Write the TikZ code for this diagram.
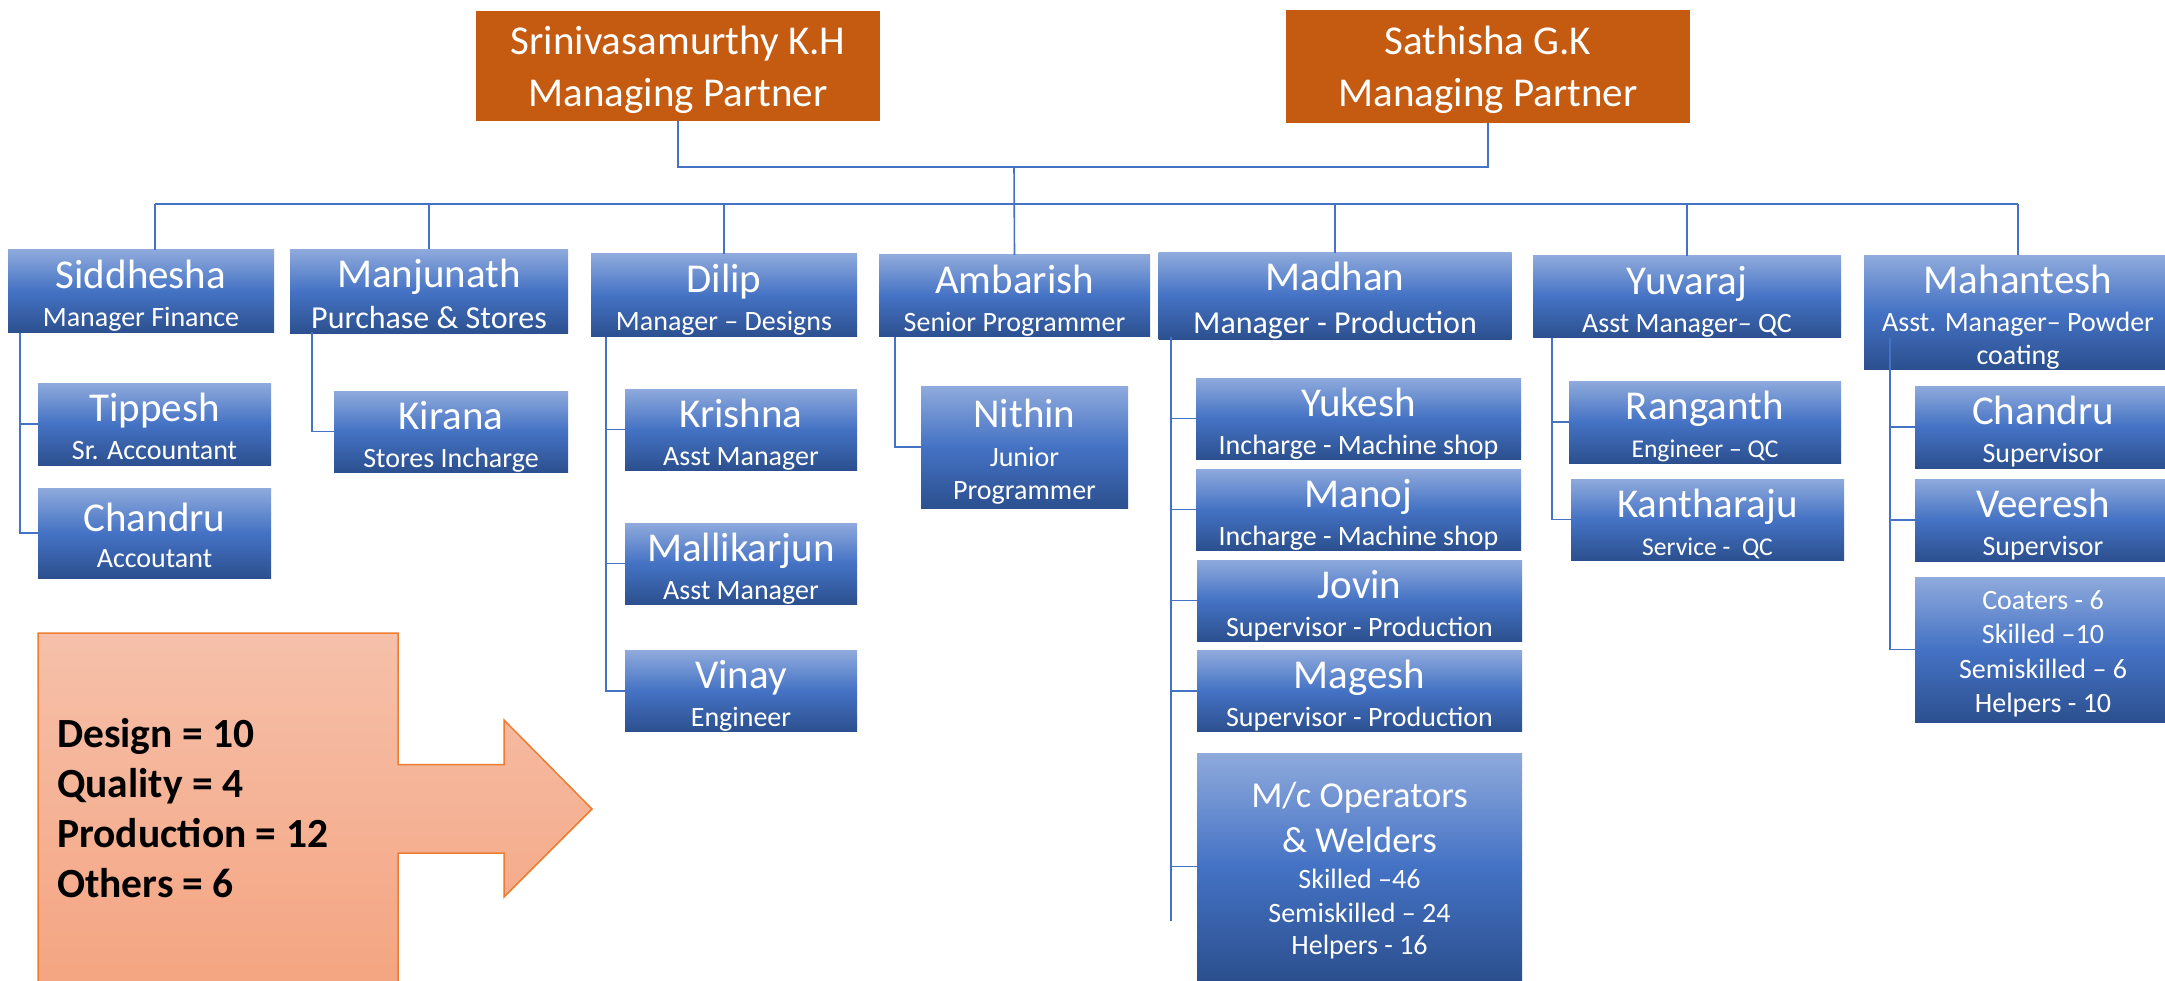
\documentclass[tikz,border=0pt]{standalone}
\usepackage{fontspec}
\setmainfont{Carlito}
\definecolor{orgtop}{RGB}{143,170,220}
\definecolor{orgmid}{RGB}{68,114,196}
\definecolor{orgbot}{RGB}{44,80,143}
\definecolor{mpfill}{RGB}{197,90,17}
\definecolor{lnc}{RGB}{68,114,196}
\definecolor{calltop}{RGB}{246,192,170}
\definecolor{callbot}{RGB}{244,164,128}
\definecolor{callline}{RGB}{237,125,49}
\newcommand\fN{\fontsize{41}{41}\selectfont}
\newcommand\fL{\fontsize{32}{32}\selectfont}
\newcommand\fR{\fontsize{25.6}{25.6}\selectfont}
\newcommand\fM{\fontsize{36.5}{36.5}\selectfont}
\newcommand\sttop[1]{\rule{0pt}{#1pt}}
\newcommand\stbot[1]{\rule[-#1pt]{0pt}{#1pt}}
\tikzset{
  ob/.style={rectangle, inner sep=0pt, top color=orgtop, bottom color=orgbot, middle color=orgmid,
    text=white, align=center, font=\fontsize{28}{34}\selectfont},
  mpbox/.style={rectangle, inner sep=0pt, fill=mpfill, text=white, align=center,
    font=\fontsize{41}{52}\selectfont},
  link/.style={draw=lnc, line width=1.6pt},
}
\begin{document}
\begin{tikzpicture}[x=1pt,y=-1pt]
\useasboundingbox (0,0) rectangle (2165,981);
\fill[white] (0,0) rectangle (2165,981);
\clip (0,0) rectangle (2165,981);

% callout
\path[top color=calltop, bottom color=callbot, draw=callline, line width=1.5pt]
  (38,633) -- (398,633) -- (398,764.5) -- (504,764.5) -- (504,720) -- (592,809)
  -- (504,897) -- (504,853) -- (398,853) -- (398,995) -- (38,995) -- cycle;
\node[anchor=north west, align=left, inner sep=0pt, font=\bfseries\fontsize{41.5}{50}\selectfont] (stats) at (57,717.6)
  {\sttop{30}Design = 10\\Quality = 4\\Production = 12\\Others = 6};

% top
\node[mpbox, minimum width=404pt, minimum height=110pt] (sri) at (678,66)
  {\sttop{36}Srinivasamurthy K.H\\Managing Partner\stbot{6}};
\node[mpbox, minimum width=404pt, minimum height=113pt] (sat) at (1488,66.5)
  {\sttop{36}Sathisha G.K\\Managing Partner\stbot{6}};

% level 2
\node[ob, minimum width=266pt, minimum height=83pt] (sid) at (141,291.5)
  {\sttop{38}\fN Siddhesha\\[4pt]Manager Finance\stbot{5}};
\node[ob, minimum width=278pt, minimum height=81pt] (man) at (429,291.5)
  {\sttop{38}\fN Manjunath\\[7pt]\fL Purchase \& Stores\stbot{5}};
\node[ob, minimum width=266pt, minimum height=83pt] (dil) at (724,295.5)
  {\sttop{38}\fN Dilip\\[4pt]Manager – Designs\stbot{5}};
\node[ob, minimum width=271pt, minimum height=82pt] (amb) at (1014.5,296)
  {\sttop{38}\fN Ambarish\\[4pt]Senior Programmer\stbot{5}};
\node[ob, minimum width=353pt, minimum height=82pt] (mad) at (1335,296)
  {\sttop{38}\fN Madhan\\[9pt]\fL Manager - Production\stbot{5}};
\node[ob, minimum width=308pt, minimum height=82pt] (yuv) at (1687,297)
  {\sttop{38}\fN Yuvaraj\\[4pt]Asst Manager– QC\stbot{5}};
\node[ob, minimum width=308pt, minimum height=113pt] (mah) at (2018,312.5)
  {\sttop{38}\fN Mahantesh\\[3.4pt]Asst. Manager– Powder\\[-0.7pt]coating\stbot{5}};

% level 3
\node[ob, minimum width=233pt, minimum height=82pt] (tip) at (154.5,424)
  {\sttop{38}\fN Tippesh\\[4pt]Sr. Accountant\stbot{5}};
\node[ob, minimum width=233pt, minimum height=90pt] (cha) at (154.5,533)
  {\sttop{38}\fN Chandru\\[2pt]Accoutant\stbot{5}};
\node[ob, minimum width=234pt, minimum height=81pt] (kir) at (451,431.5)
  {\sttop{38}\fN Kirana\\[4pt]Stores Incharge\stbot{5}};
\node[ob, minimum width=232pt, minimum height=81pt] (kri) at (741,429.5)
  {\sttop{38}\fN Krishna\\[4pt]Asst Manager\stbot{5}};
\node[ob, minimum width=232pt, minimum height=81pt] (mal) at (741,563.5)
  {\sttop{38}\fN Mallikarjun\\[4pt]Asst Manager\stbot{5}};
\node[ob, minimum width=232pt, minimum height=80pt] (vin) at (741,691)
  {\sttop{38}\fN Vinay\\[4pt]Engineer\stbot{5}};
\node[ob, minimum width=207pt, minimum height=122pt] (nit) at (1024.5,447)
  {\sttop{38}\fN Nithin\\[4.3pt]Junior\\[-0.7pt]Programmer\stbot{5}};
\node[ob, minimum width=325pt, minimum height=81pt] (yuk) at (1358.5,418.5)
  {\sttop{38}\fN Yukesh\\[4pt]Incharge - Machine shop\stbot{5}};
\node[ob, minimum width=325pt, minimum height=81pt] (mno) at (1358.5,509.5)
  {\sttop{38}\fN Manoj\\[4pt]Incharge - Machine shop\stbot{5}};
\node[ob, minimum width=325pt, minimum height=81pt] (jov) at (1359.5,600.5)
  {\sttop{38}\fN Jovin\\[4pt]Supervisor - Production\stbot{5}};
\node[ob, minimum width=325pt, minimum height=80pt] (mag) at (1359.5,691)
  {\sttop{38}\fN Magesh\\[4pt]Supervisor - Production\stbot{5}};
\node[ob, minimum width=325pt, minimum height=227pt] (mco) at (1359.5,866.5)
  {\sttop{34}\fM M/c Operators\\[11pt]\fM \& Welders\\[2.6pt]Skilled –46\\Semiskilled – 24\\[-1.7pt]Helpers - 16\stbot{5}};
\node[ob, minimum width=272pt, minimum height=82pt] (ran) at (1705,422)
  {\sttop{38}\fN Ranganth\\[4pt]\fR Engineer – QC\stbot{5}};
\node[ob, minimum width=273pt, minimum height=81pt] (kan) at (1707.5,519.5)
  {\sttop{38}\fN Kantharaju\\[4pt]\fR Service -\ \ QC\stbot{5}};
\node[ob, minimum width=256pt, minimum height=82pt] (chs) at (2043,427)
  {\sttop{38}\fN Chandru\\[4pt]Supervisor\stbot{5}};
\node[ob, minimum width=256pt, minimum height=82pt] (vee) at (2043,520)
  {\sttop{38}\fN Veeresh\\[4pt]Supervisor\stbot{5}};
\node[ob, minimum width=256pt, minimum height=145pt] (coa) at (2043,649.5)
  {\sttop{28}Coaters - 6\\[0.5pt]Skilled –10\\[0.5pt]Semiskilled – 6\\[0.5pt]Helpers - 10};

% connectors: top
\coordinate (jt) at (1014,167);
\draw[link] (sri.south) |- (jt) -| (sat.south);
\draw[link] (jt) -- (amb.north);
\coordinate (busL) at (155,204);
\coordinate (busR) at (2018,204);
\draw[link] (busL) -- (busR);
\draw[link] (busL) -- (busL |- sid.north);
\foreach \n in {man,dil,mad,yuv,mah} \draw[link] (\n.north) -- (\n.north |- busL);

% connectors: level 3
\coordinate (sidL) at (20,333);
\draw[link] (sidL) |- (tip.west);
\draw[link] (sidL) |- (cha.west);
\coordinate (manL) at (312,332);
\draw[link] (manL) |- (kir.west);
\coordinate (dilL) at (606,337);
\foreach \n in {kri,mal,vin} \draw[link] (dilL) |- (\n.west);
\coordinate (ambL) at (895,337);
\draw[link] (ambL) |- (nit.west);
\coordinate (madL) at (1171,337);
\coordinate (madE) at (1171,921);
\draw[link] (madL) -- (madE);
\foreach \n in {yuk,mno,jov,mag,mco} \draw[link] (madL) |- (\n.west);
\coordinate (yuvL) at (1552,338);
\foreach \n in {ran,kan} \draw[link] (yuvL) |- (\n.west);
\coordinate (mahL) at (1890,338);
\foreach \n in {chs,vee,coa} \draw[link] (mahL) |- (\n.west);
\end{tikzpicture}
\end{document}
